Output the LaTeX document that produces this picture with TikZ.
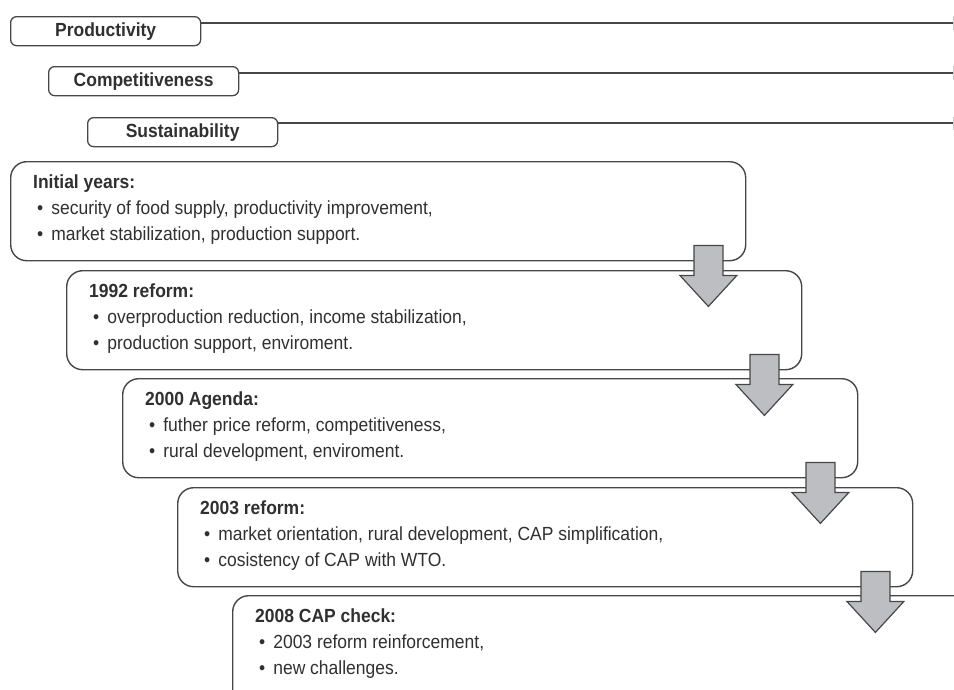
\documentclass[tikz,border=0pt]{standalone}
\usepackage{fontspec}
\setmainfont{Liberation Sans}[FakeStretch=0.92]
\definecolor{edgegray}{HTML}{474747}
\definecolor{arrowgray}{HTML}{BDBEC1}
\definecolor{ink}{HTML}{303030}
\newcommand{\capfont}{\fontsize{19}{22}\selectfont}
\tikzset{
  stage/.style={draw=edgegray, line width=1.4pt, rounded corners=16pt, fill=white,
    anchor=north west, minimum width=735pt, minimum height=99pt, inner sep=0pt},
  theme/.style={draw=edgegray, line width=1.3pt, rounded corners=6pt, fill=white,
    anchor=north west, minimum width=190pt, minimum height=29pt, inner sep=0pt,
    font=\capfont\bfseries, text=ink},
  themeline/.style={draw=edgegray, line width=1.4pt},
  head/.style={anchor=base west, inner sep=0pt, font=\capfont\bfseries, text=ink},
  item/.style={anchor=base west, inner sep=0pt, font=\capfont, text=ink},
  blockarrow/.pic={
    \draw[draw=edgegray, fill=arrowgray, line width=1.2pt, line join=miter]
      (-14.5,0) -- (14.5,0) -- (14.5,30) -- (28.5,30) -- (0,61)
      -- (-28.5,30) -- (-14.5,30) -- cycle;}
}
\begin{document}
\begin{tikzpicture}[x=1pt, y=-1pt]
    \useasboundingbox (0,0) rectangle (954,689);
    \clip (0,0) rectangle (954,689);

    % goals on top
    \node[theme] (prod) at (10,16) {Productivity};
    \node[theme] (comp) at (48,66) {Competitiveness};
    \node[theme] (sust) at (87,117) {Sustainability};
    \coordinate (prodend) at (954,23);
    \coordinate (compend) at (954,73);
    \coordinate (sustend) at (954,123);
    \draw[themeline] ([yshift=-7pt]prod.north east) -- (prodend);
    \draw[themeline] ([yshift=-7pt]comp.north east) -- (compend);
    \draw[themeline] ([yshift=-6pt]sust.north east) -- (sustend);
    \draw[gray!40, thin] (953.5,16) -- (953.5,30);
    \draw[gray!40, thin] (953.5,66) -- (953.5,80);
    \draw[gray!40, thin] (953.5,117) -- (953.5,130);

    % stages of the reform
    \node[stage] (initial) at (10,161) {};
    \node[stage] (reform92) at (66,270) {};
    \node[stage] (agenda) at (122,378) {};
    \node[stage] (reform03) at (177,487) {};
    \node[stage, minimum width=800pt, minimum height=130pt] (check08) at (232,595) {};

    \node[head] (initialhead) at ([shift={(23,27)}]initial.north west) {Initial years:};
    \node[item] (initiala) at ([shift={(4,26)}]initialhead.base west) {•\, security of food supply, productivity improvement,};
    \node[item] (initialb) at ([shift={(0,26)}]initiala.base west) {•\, market stabilization, production support.};

    \node[head] (reform92head) at ([shift={(23,27)}]reform92.north west) {1992 reform:};
    \node[item] (reform92a) at ([shift={(4,26)}]reform92head.base west) {•\, overproduction reduction, income stabilization,};
    \node[item] (reform92b) at ([shift={(0,26)}]reform92a.base west) {•\, production support, enviroment.};

    \node[head] (agendahead) at ([shift={(23,27)}]agenda.north west) {2000 Agenda:};
    \node[item] (agendaa) at ([shift={(4,26)}]agendahead.base west) {•\, futher price reform, competitiveness,};
    \node[item] (agendab) at ([shift={(0,26)}]agendaa.base west) {•\, rural development, enviroment.};

    \node[head] (reform03head) at ([shift={(23,27)}]reform03.north west) {2003 reform:};
    \node[item] (reform03a) at ([shift={(4,26)}]reform03head.base west) {•\, market orientation, rural development, CAP simplification,};
    \node[item] (reform03b) at ([shift={(0,26)}]reform03a.base west) {•\, cosistency of CAP with WTO.};

    \node[head] (check08head) at ([shift={(23,27)}]check08.north west) {2008 CAP check:};
    \node[item] (check08a) at ([shift={(4,26)}]check08head.base west) {•\, 2003 reform reinforcement,};
    \node[item] (check08b) at ([shift={(0,26)}]check08a.base west) {•\, new challenges.};

    % arrows between stages
    \pic at ([shift={(-38,-16)}]initial.south east) {blockarrow};
    \pic at ([shift={(-38,-16)}]reform92.south east) {blockarrow};
    \pic at ([shift={(-38,-16)}]agenda.south east) {blockarrow};
    \pic at ([shift={(-38,-16)}]reform03.south east) {blockarrow};
\end{tikzpicture}
\end{document}
